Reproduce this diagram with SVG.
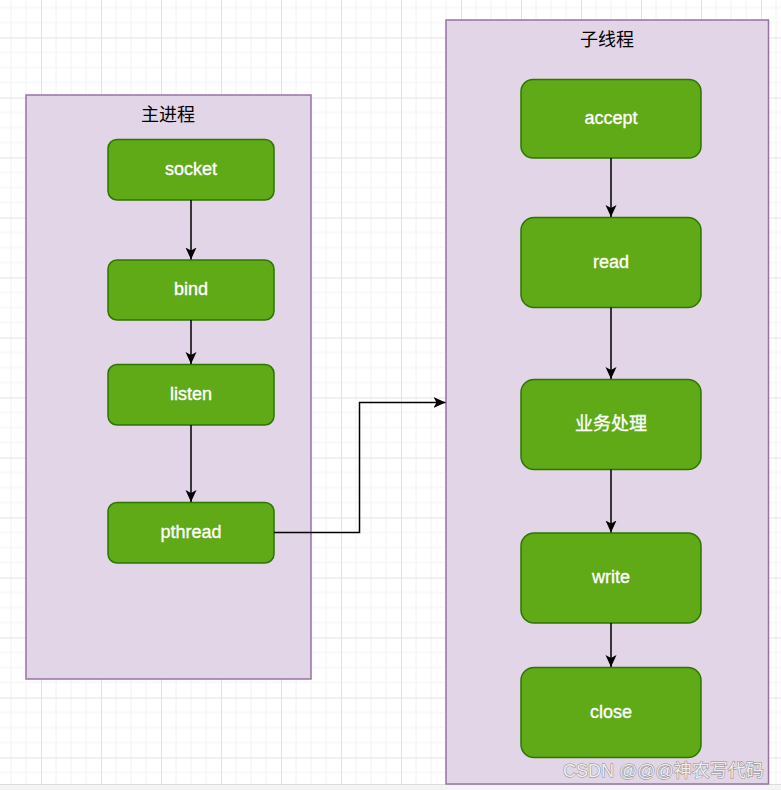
<svg xmlns="http://www.w3.org/2000/svg" width="781" height="790" viewBox="0 0 781 790">
  <style>
    .container { fill: #e1d5e7; stroke: #9673a6; stroke-width: 1.5; }
    .node rect { fill: #60a917; stroke: #2d7600; stroke-width: 1.5; }
    .label { font-family: "Liberation Sans", Arial, "Noto Sans CJK SC", sans-serif; font-size: 18px; fill: #ffffff; stroke: #ffffff; stroke-width: 0.35; text-anchor: middle; }
    .title { font-family: "Liberation Sans", Arial, "Noto Sans CJK SC", sans-serif; font-size: 18px; fill: #000000; text-anchor: middle; }
    .edge { fill: none; stroke: #000000; stroke-width: 1.5; }
    .wm { font-family: "Liberation Sans", Arial, "Noto Sans CJK SC", sans-serif; font-size: 18px; fill: #eeeeee; stroke: #8a8a8a; stroke-width: 1; paint-order: stroke; }
  </style>
  <defs>
    <pattern id="grid" patternUnits="userSpaceOnUse" x="41" y="37.5" width="60" height="60">
      <path d="M15,0 V60 M30,0 V60 M45,0 V60 M0,15 H60 M0,30 H60 M0,45 H60" stroke="#f2f2f2" stroke-width="1" fill="none"/>
      <path d="M0.5,0 V60 M0,0.5 H60" stroke="#e2e2e2" stroke-width="1" fill="none"/>
    </pattern>
    <marker id="arrow" markerUnits="userSpaceOnUse" markerWidth="12" markerHeight="12" refX="12" refY="6" orient="auto">
      <path d="M0,0.5 L12,6 L0,11.5 L3,6 Z" fill="#000000"/>
    </marker>
  </defs>

  <!-- background -->
  <rect x="0" y="0" width="781" height="790" fill="#ffffff"/>
  <rect x="0" y="0" width="781" height="784" fill="url(#grid)"/>
  <rect x="0" y="784" width="781" height="6" fill="#f4f4f4"/>
  <line x1="0" y1="784.5" x2="781" y2="784.5" stroke="#dcdcdc" stroke-width="1"/>

  <!-- containers -->
  <g id="main-process">
    <rect class="container" x="26" y="95" width="285" height="584"/>
    <text class="title" x="168" y="121">主进程</text>
  </g>
  <g id="child-thread">
    <rect class="container" x="446" y="20" width="322.5" height="764"/>
    <text class="title" x="607" y="46">子线程</text>
  </g>

  <!-- main process nodes -->
  <g id="socket" class="node">
    <rect x="108" y="139.5" width="166" height="60.5" rx="9" ry="9"/>
    <text class="label" x="191" y="175">socket</text>
  </g>
  <g id="bind" class="node">
    <rect x="108" y="260" width="166" height="60" rx="9" ry="9"/>
    <text class="label" x="191" y="295">bind</text>
  </g>
  <g id="listen" class="node">
    <rect x="108" y="364.5" width="166" height="60.5" rx="9" ry="9"/>
    <text class="label" x="191" y="400">listen</text>
  </g>
  <g id="pthread" class="node">
    <rect x="108" y="502.5" width="166" height="60.5" rx="9" ry="9"/>
    <text class="label" x="191" y="538">pthread</text>
  </g>

  <!-- child thread nodes -->
  <g id="accept" class="node">
    <rect x="521" y="79.5" width="180" height="78.5" rx="12" ry="12"/>
    <text class="label" x="611" y="124">accept</text>
  </g>
  <g id="read" class="node">
    <rect x="521" y="217.5" width="180" height="90" rx="13" ry="13"/>
    <text class="label" x="611" y="268">read</text>
  </g>
  <g id="business" class="node">
    <rect x="521" y="379.5" width="180" height="90" rx="13" ry="13"/>
    <text class="label" x="611" y="430">业务处理</text>
  </g>
  <g id="write" class="node">
    <rect x="521" y="533" width="180" height="90" rx="13" ry="13"/>
    <text class="label" x="611" y="583">write</text>
  </g>
  <g id="close" class="node">
    <rect x="521" y="667.5" width="180" height="90" rx="13" ry="13"/>
    <text class="label" x="611" y="718">close</text>
  </g>

  <!-- connectors -->
  <g id="connectors">
    <path class="edge" d="M191,200 V259.5" marker-end="url(#arrow)"/>
    <path class="edge" d="M191,320 V364" marker-end="url(#arrow)"/>
    <path class="edge" d="M191,425 V502" marker-end="url(#arrow)"/>
    <path class="edge" d="M274,532.5 H359.5 V402.5 H445.5" marker-end="url(#arrow)"/>
    <path class="edge" d="M611,158 V217" marker-end="url(#arrow)"/>
    <path class="edge" d="M611,307.5 V379" marker-end="url(#arrow)"/>
    <path class="edge" d="M611,469.5 V532.5" marker-end="url(#arrow)"/>
    <path class="edge" d="M611,623 V667" marker-end="url(#arrow)"/>
  </g>

  <!-- watermark -->
  <text class="wm" x="563" y="777">CSDN @@@神农写代码</text>
</svg>
